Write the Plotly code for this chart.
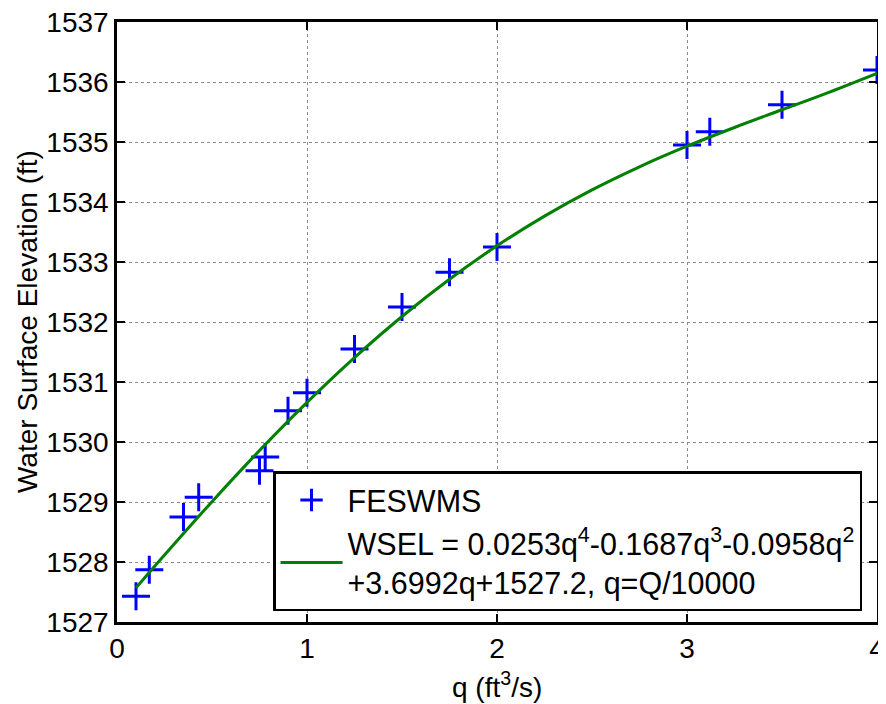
import plotly.graph_objects as go

# FESWMS data points (q = Q/10000, WSEL ft)
q_pts = [0.10, 0.17, 0.35, 0.43, 0.75, 0.78, 0.90, 1.00, 1.25, 1.50, 1.75, 2.00, 3.00, 3.12, 3.50, 4.00]
wsel_pts = [1527.43, 1527.87, 1528.75, 1529.08, 1529.52, 1529.75, 1530.52, 1530.82,
            1531.55, 1532.25, 1532.83, 1533.25, 1534.95, 1535.17, 1535.62, 1536.20]

# Fitted curve values
q_fit = [0.10, 0.25, 0.50, 0.75, 1.00, 1.25, 1.50, 1.75, 2.00, 2.25, 2.50, 2.75, 3.00, 3.25, 3.50, 3.75, 4.00]
wsel_fit = [1527.569, 1528.116, 1529.006, 1529.857, 1530.660, 1531.407, 1532.092, 1532.713,
            1533.270, 1533.765, 1534.202, 1534.587, 1534.930, 1535.242, 1535.537, 1535.832, 1536.144]

x_ticks = [0, 1, 2, 3, 4]
y_ticks = [1527, 1528, 1529, 1530, 1531, 1532, 1533, 1534, 1535, 1536, 1537]

FONT = "Liberation Sans, Arial, sans-serif"

fig = go.Figure()
fig.add_trace(go.Scatter(
    x=q_pts, y=wsel_pts, mode="markers", name="FESWMS",
    marker=dict(symbol="cross-thin", size=20, line=dict(color="#0000FF", width=3), color="#0000FF"),
))
fig.add_trace(go.Scatter(
    x=q_fit, y=wsel_fit, mode="lines", line_shape="spline",
    name="WSEL = 0.0253q<sup>4</sup>-0.1687q<sup>3</sup>-0.0958q<sup>2</sup><br>+3.6992q+1527.2, q=Q/10000",
    line=dict(color="#008000", width=3),
))

axis_common = dict(
    showline=True, linecolor="black", linewidth=2.5, mirror="ticks",
    ticks="inside", ticklen=8, tickwidth=2, tickcolor="black",
    showgrid=True, gridcolor="#8a8a8a", gridwidth=1, griddash="3px,3px",
    zeroline=False, tickfont=dict(size=28, color="black", family=FONT),
    automargin=False, ticklabeloverflow="allow",
)

fig.update_xaxes(range=[0, 4], tickvals=x_ticks, ticktext=[str(v) for v in x_ticks], **axis_common)
fig.update_yaxes(range=[1527, 1537], tickvals=y_ticks, ticktext=[str(v) for v in y_ticks], **axis_common)

fig.add_annotation(text="Water Surface Elevation (ft)", xref="paper", yref="paper",
                   x=-0.1184, y=0.5, xanchor="center", yanchor="middle", textangle=-90,
                   showarrow=False, font=dict(size=28, color="black", family=FONT))
fig.add_annotation(text="q (ft<sup>3</sup>/s)", xref="paper", yref="paper",
                   x=0.5, y=-0.105, xanchor="center", yanchor="middle",
                   showarrow=False, font=dict(size=28, color="black", family=FONT))

# page body has an 8px default margin, so the figure is 8px smaller than the window
fig.update_layout(
    width=878, height=696,
    margin=dict(l=109, r=9, t=14, b=82, autoexpand=False),
    paper_bgcolor="white", plot_bgcolor="white",
    font=dict(family=FONT, color="black"),
    legend=dict(x=0.9803, y=0.018, xanchor="right", yanchor="bottom",
                bgcolor="white", bordercolor="black", borderwidth=2.5,
                font=dict(size=30.5, color="black", family=FONT),
                tracegroupgap=0, itemwidth=62),
    showlegend=True,
)

fig.write_html("out.html")
